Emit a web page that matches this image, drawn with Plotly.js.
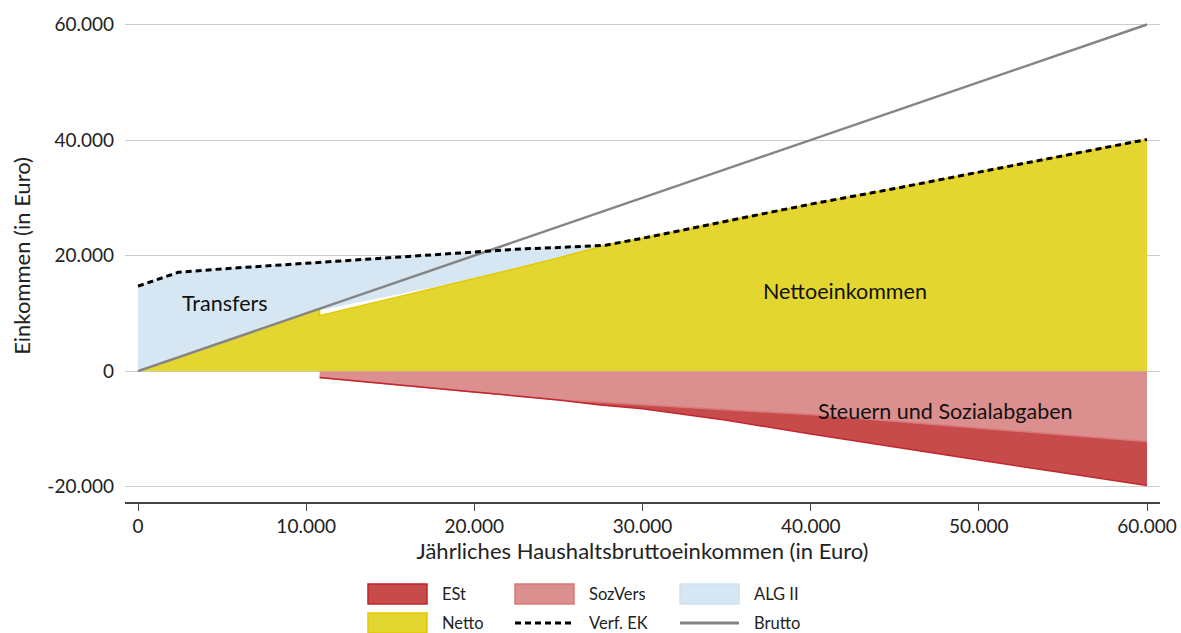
<!DOCTYPE html>
<html>
<head>
<meta charset="utf-8">
<script src="https://cdn.plot.ly/plotly-3.0.1.min.js"></script>
<style>html,body{margin:0;padding:0;background:#fff;}#chart{width:1181px;height:633px;}</style>
</head>
<body>
<div id="chart"></div>
<script>
// ---- Data ----
const xTop = [0, 2400, 5000, 8000, 10800, 10800, 13200, 15600, 17400, 20000, 22500, 25000, 27800, 30000, 35000, 40000, 45000, 50000, 55000, 60000];
const netto = [0, 2400, 5000, 8000, 10800, 9600, 11250, 12900, 14150, 15950, 17750, 19600, 21800, 23000, 25900, 28900, 31600, 34400, 37200, 40100];
const transferBase = [0, 2400, 5000, 8000, 10800, 10550, 12000, 13450, 14450, 15950, 17750, 19600, 21800, 23000, 25900, 28900, 31600, 34400, 37200, 40100];
const verfEK = [14700, 17100, 17700, 18300, 18800, 18800, 19300, 19750, 20150, 20650, 21100, 21400, 21800, 23000, 25900, 28900, 31600, 34400, 37200, 40100];

const xBrutto = [0, 60000];
const brutto = [0, 60000];

const xNeg = [10800, 15000, 20000, 25000, 27500, 30000, 35000, 40000, 45000, 50000, 55000, 60000];
const sozVers = [-1100, -2300, -3600, -4950, -5400, -5800, -6700, -7500, -8700, -9900, -11050, -12200];
const estLowerEdge = [-1100, -2300, -3600, -5000, -5850, -6500, -8500, -10900, -13200, -15400, -17600, -19800];

const yTicks = [-20000, 0, 20000, 40000, 60000];
const yTickText = ['-20.000', '0', '20.000', '40.000', '60.000'];
const xTicks = [0, 10000, 20000, 30000, 40000, 50000, 60000];
const xTickText = ['0', '10.000', '20.000', '30.000', '40.000', '50.000', '60.000'];

const legendLabels = ['ESt', 'SozVers', 'ALG II', 'Netto', 'Verf. EK', 'Brutto'];
const areaLabels = ['Transfers', 'Nettoeinkommen', 'Steuern und Sozialabgaben'];

// ---- Styles ----
const FONT = 'Lato, "Noto Sans", sans-serif';
const C = {
  est: {fill: '#c84b4b', line: '#c1272d'},
  soz: {fill: '#dc8f8f', line: '#d87a7a'},
  alg: {fill: '#d6e7f3', line: '#cfe2f1'},
  net: {fill: '#e4d630', line: '#e2c900'},
  verf: '#000000',
  brutto: '#858585'
};

const traces = [
  {x: xTop, y: transferBase, mode: 'lines', line: {width: 0, color: 'rgba(0,0,0,0)'}, showlegend: false, hoverinfo: 'skip'},
  {x: xTop, y: verfEK, name: legendLabels[2], mode: 'lines', fill: 'tonexty', fillcolor: C.alg.fill,
   line: {width: 1, color: C.alg.line}},
  {x: xTop, y: netto, name: legendLabels[3], mode: 'lines', fill: 'tozeroy', fillcolor: C.net.fill,
   line: {width: 1.5, color: C.net.line}},
  {x: xNeg, y: sozVers, name: legendLabels[1], mode: 'lines', fill: 'tozeroy', fillcolor: C.soz.fill,
   line: {width: 1.5, color: C.soz.line}},
  {x: xNeg, y: estLowerEdge, name: legendLabels[0], mode: 'lines', fill: 'tonexty', fillcolor: C.est.fill,
   line: {width: 1.5, color: C.est.line}},
  {x: xBrutto, y: brutto, name: legendLabels[5], mode: 'lines', line: {width: 2.5, color: C.brutto}},
  {x: xTop, y: verfEK, name: legendLabels[4], mode: 'lines', line: {width: 3, color: C.verf, dash: '6px,4px'}}
];

// ---- Layout geometry ----
const W = 1181, H = 633, ML = 125, MR = 21, MT = 10, MB = 5;
const PW = W - ML - MR, PH = H - MT - MB;
const plotBottomPx = 502;
const px = p => (p - ML) / PW;
const py = p => (H - MB - p) / PH;

// custom legend (3 columns x 2 rows)
const colSymX = [368, 515, 680];
const rowY = [594, 623];
const symW = 59, boxH = 20, textGap = 13;
const legendStyles = [
  {type: 'box', fill: C.est.fill, line: C.est.line},
  {type: 'box', fill: C.soz.fill, line: C.soz.line},
  {type: 'box', fill: C.alg.fill, line: C.alg.line},
  {type: 'box', fill: C.net.fill, line: C.net.line},
  {type: 'line', color: C.verf, width: 3, dash: '6px,4px'},
  {type: 'line', color: C.brutto, width: 3, dash: 'solid'}
];
const shapes = [];
const annotations = [];
legendLabels.forEach((lab, i) => {
  const col = i % 3, row = Math.floor(i / 3);
  const x0 = colSymX[col], yc = rowY[row], st = legendStyles[i];
  if (st.type === 'box') {
    shapes.push({type: 'rect', xref: 'paper', yref: 'paper', x0: px(x0), x1: px(x0 + symW),
      y0: py(yc + boxH / 2), y1: py(yc - boxH / 2), fillcolor: st.fill, line: {color: st.line, width: 1.5}});
  } else {
    shapes.push({type: 'line', xref: 'paper', yref: 'paper', x0: px(x0), x1: px(x0 + symW),
      y0: py(yc), y1: py(yc), line: {color: st.color, width: st.width, dash: st.dash}});
  }
  annotations.push({xref: 'paper', yref: 'paper', x: px(x0 + symW + textGap), y: py(yc),
    xanchor: 'left', yanchor: 'middle', text: lab, showarrow: false, height: 18, valign: 'middle',
    font: {family: FONT, size: 16.5, color: '#222'}});
});

const areaLabelPos = [[5170, 11760], [42040, 13830], [47990, -6920]];
areaLabels.forEach((t, i) => {
  annotations.push({x: areaLabelPos[i][0], y: areaLabelPos[i][1], text: t, showarrow: false,
    font: {family: FONT, size: 21.5, color: '#111'}});
});

const layout = {
  width: W, height: H,
  margin: {l: ML, r: MR, t: MT, b: MB},
  paper_bgcolor: '#fff', plot_bgcolor: '#fff',
  font: {family: FONT, size: 19, color: '#222'},
  showlegend: false,
  xaxis: {
    range: [-773, 60772], tickvals: xTicks, ticktext: xTickText,
    showgrid: false, zeroline: false, showline: true, linecolor: '#444', linewidth: 1.5,
    ticks: 'outside', ticklen: 7, tickcolor: '#444', tickwidth: 1,
    tickfont: {family: FONT, size: 19, color: '#222'},
    title: {text: 'Jährliches Haushaltsbruttoeinkommen (in Euro)', font: {family: FONT, size: 22, color: '#222'}, standoff: 4}
  },
  yaxis: {
    domain: [py(plotBottomPx), 1],
    range: [-22650, 62500], tickvals: yTicks, ticktext: yTickText,
    showgrid: true, gridcolor: '#cccccc', gridwidth: 1, zeroline: true, zerolinecolor: '#cccccc', zerolinewidth: 1,
    showline: false, ticks: '', ticklabelstandoff: 10,
    tickfont: {family: FONT, size: 19, color: '#222'},
    title: {text: 'Einkommen (in Euro)', font: {family: FONT, size: 22, color: '#222'}, standoff: 10}
  },
  shapes: shapes,
  annotations: annotations
};

Plotly.newPlot('chart', traces, layout, {displayModeBar: false, staticPlot: true});
</script>
</body>
</html>
